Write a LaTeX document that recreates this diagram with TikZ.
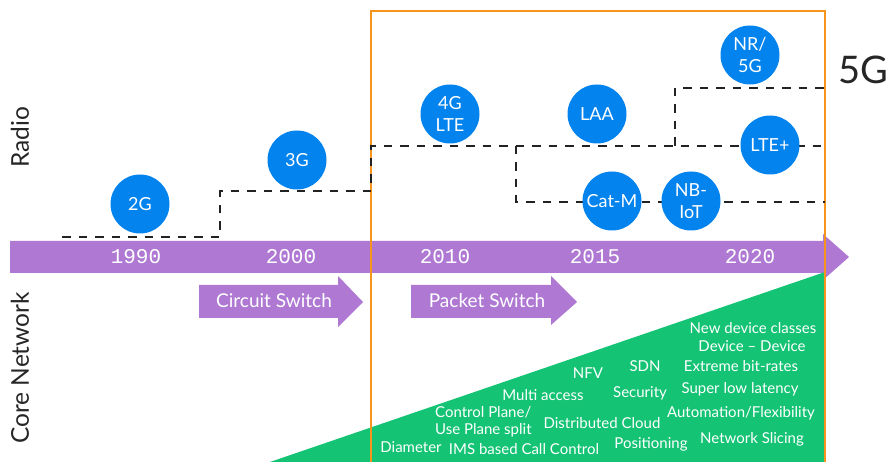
\documentclass[tikz,border=0pt]{standalone}
\usepackage{fontspec}
\setmainfont{Lato}
\setmonofont{Liberation Mono}
\definecolor{bandpurple}{HTML}{AE78D3}
\definecolor{techblue}{HTML}{0383EE}
\definecolor{coregreen}{HTML}{14C374}
\definecolor{boxorange}{HTML}{F7941D}
\definecolor{dashgray}{HTML}{222222}
\tikzset{
  circ/.style={circle, fill=techblue, minimum size=59pt, inner sep=0pt, text=white, align=center, font=\fontsize{18}{21.5}\selectfont},
  year/.style={text=white, font=\ttfamily\fontsize{21}{23}\selectfont},
  arrowtext/.style={text=white, font=\fontsize{19}{21}\selectfont},
  feat/.style={text=white, font=\fontsize{15}{17.5}\selectfont, inner sep=0pt},
  side/.style={rotate=90, font=\fontsize{24.5}{26}\selectfont, text=black!85},
  stepline/.style={draw=dashgray, line width=2.4pt, dash pattern=on 8.5pt off 8pt},
}
\begin{document}
\begin{tikzpicture}[x=1pt,y=-1pt]
\useasboundingbox (0,0) rectangle (887,462);
\clip (0,0) rectangle (887,462);
% main timeline band
\fill[bandpurple] (10,241) -- (823,241) -- (823,234) -- (849,257) -- (823,280) -- (823,273) -- (10,273) -- cycle;
% green triangle
\fill[coregreen] (270,462) -- (825,272) -- (825,470) -- (260,470) -- cycle;
% circuit switch arrow
\fill[bandpurple] (199,285) -- (338,285) -- (338,276) -- (363,302) -- (338,327) -- (338,318) -- (199,318) -- cycle;
% packet switch arrow
\fill[bandpurple] (411,285) -- (551,285) -- (551,276) -- (577,302) -- (551,325) -- (551,318) -- (411,318) -- cycle;
\node[arrowtext] (cs) at (274,301) {Circuit Switch};
\node[arrowtext] (ps) at (487,301) {Packet Switch};
% years
\node[year] (y1990) at (136,257) {1990};
\node[year] (y2000) at (291,257) {2000};
\node[year] (y2010) at (445,257) {2010};
\node[year] (y2015) at (595,257) {2015};
\node[year] (y2020) at (750,257) {2020};
% orange box
\draw[boxorange, line width=2.5pt] (371,470) -- (371,11) -- (825,11) -- (825,470);
% dashed step lines
\coordinate (a0) at (62,237);
\coordinate (a1) at (220,237);
\coordinate (a2) at (220,191);
\coordinate (a3) at (371,191);
\coordinate (a4) at (371,146);
\coordinate (a5) at (825,146);
\coordinate (b0) at (516,146);
\coordinate (b1) at (516,202);
\coordinate (b2) at (825,202);
\coordinate (c0) at (675,146);
\coordinate (c1) at (675,88);
\coordinate (c2) at (825,88);
\draw[stepline] (a0) -- (a1) -- (a2) -- (a3) -- (a4) -- (a5);
\draw[stepline] (b0) -- (b1) -- (b2);
\draw[stepline] (c0) -- (c1) -- (c2);
% technology circles
\node[circ] (g2) at (140,204) {2G};
\node[circ] (g3) at (297,160) {3G};
\node[circ] (g4) at (450,114) {4G\\LTE};
\node[circ] (laa) at (597,114) {LAA};
\node[circ] (nr) at (750,55) {NR/\\5G};
\node[circ] (lteplus) at (770,145) {LTE+};
\node[circ] (catm) at (612,201) {Cat-M};
\node[circ] (nbiot) at (691,201) {NB-\\IoT};
\node[font=\fontsize{38}{40}\selectfont, text=black!85] (fiveg) at (863,70) {5G};
% side labels
\node[side] (radio) at (20,137) {Radio};
\node[side] (core) at (20,368) {Core Network};
% features
\node[feat] (f1) at (753,328) {New device classes};
\node[feat] (f2) at (752,346) {Device -- Device};
\node[feat] (f3) at (741,366) {Extreme bit-rates};
\node[feat] (f4) at (740,389) {Super low latency};
\node[feat] (f5) at (741,413) {Automation/Flexibility};
\node[feat] (f6) at (752,439) {Network Slicing};
\node[feat] (f7) at (645,366) {SDN};
\node[feat] (f8) at (588,373) {NFV};
\node[feat] (f9) at (640,393) {Security};
\node[feat] (f10) at (543,395) {Multi access};
\node[feat, align=left, anchor=west] (f11) at (435,422) {Control Plane/\\Use Plane split};
\node[feat] (f12) at (602,423) {Distributed Cloud};
\node[feat] (f13) at (651,444) {Positioning};
\node[feat] (f14) at (411,447) {Diameter};
\node[feat] (f15) at (524,449) {IMS based Call Control};
\end{tikzpicture}
\end{document}
